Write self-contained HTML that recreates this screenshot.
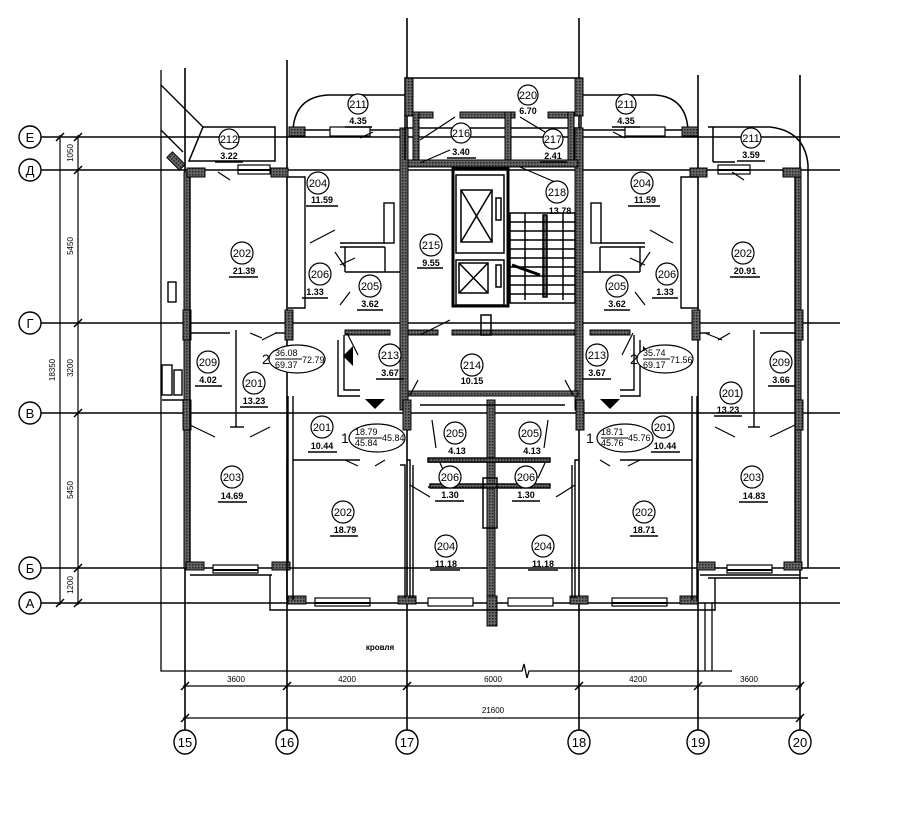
<!DOCTYPE html>
<html><head><meta charset="utf-8"><style>
html,body{margin:0;padding:0;background:#fff;}
svg{display:block;}
text{font-family:"Liberation Sans",sans-serif;fill:#000;}
.n{font-size:13px;text-anchor:middle;}
.a{font-size:9px;text-anchor:middle;font-weight:bold;}
.d{font-size:8px;text-anchor:middle;}
</style></head><body>
<svg width="900" height="820" viewBox="0 0 900 820" xmlns="http://www.w3.org/2000/svg">
<defs>
<pattern id="h" width="3" height="3" patternUnits="userSpaceOnUse"><rect width="3" height="3" fill="#666"/><rect width="1.5" height="1.5" fill="#222"/></pattern>
</defs>
<rect width="900" height="820" fill="#fff"/>
<g stroke="#000" stroke-width="1.6" fill="none">
<line x1="40" y1="137" x2="840" y2="137"/>
<line x1="40" y1="170" x2="840" y2="170"/>
<line x1="40" y1="323" x2="840" y2="323"/>
<line x1="40" y1="413" x2="840" y2="413"/>
<line x1="40" y1="568" x2="840" y2="568"/>
<line x1="40" y1="603" x2="840" y2="603"/>
<line x1="185" y1="68" x2="185" y2="731"/>
<line x1="287" y1="60" x2="287" y2="731"/>
<line x1="407" y1="18" x2="407" y2="731"/>
<line x1="579" y1="18" x2="579" y2="731"/>
<line x1="698" y1="75" x2="698" y2="731"/>
<line x1="800" y1="75" x2="800" y2="731"/>
</g>
<g stroke="#000" stroke-width="1.4" fill="#fff">
<circle cx="30" cy="137" r="11"/><circle cx="30" cy="170" r="11"/><circle cx="30" cy="323" r="11"/>
<circle cx="30" cy="413" r="11"/><circle cx="30" cy="568" r="11"/><circle cx="30" cy="603" r="11"/>
<ellipse cx="185" cy="742" rx="11" ry="12"/><ellipse cx="287" cy="742" rx="11" ry="12"/><ellipse cx="407" cy="742" rx="11" ry="12"/>
<ellipse cx="579" cy="742" rx="11" ry="12"/><ellipse cx="698" cy="742" rx="11" ry="12"/><ellipse cx="800" cy="742" rx="11" ry="12"/>
</g>
<g class="n" style="font-size:13px">
<text x="30" y="142">Е</text><text x="30" y="175">Д</text><text x="30" y="328">Г</text>
<text x="30" y="418">В</text><text x="30" y="573">Б</text><text x="30" y="608">А</text>
<text x="185" y="747">15</text><text x="287" y="747">16</text><text x="407" y="747">17</text>
<text x="579" y="747">18</text><text x="698" y="747">19</text><text x="800" y="747">20</text>
</g>
<g stroke="#000" stroke-width="1.2">
<line x1="60" y1="135" x2="60" y2="605"/>
<line x1="78" y1="135" x2="78" y2="605"/>
<g stroke-width="1.5">
<line x1="56" y1="141" x2="64" y2="133"/><line x1="56" y1="607" x2="64" y2="599"/>
<line x1="74" y1="141" x2="82" y2="133"/><line x1="74" y1="174" x2="82" y2="166"/><line x1="74" y1="327" x2="82" y2="319"/>
<line x1="74" y1="417" x2="82" y2="409"/><line x1="74" y1="572" x2="82" y2="564"/><line x1="74" y1="607" x2="82" y2="599"/>
</g>
</g>
<g class="d">
<text transform="translate(73,153) rotate(-90)">1050</text>
<text transform="translate(73,246) rotate(-90)">5450</text>
<text transform="translate(73,368) rotate(-90)">3200</text>
<text transform="translate(73,490) rotate(-90)">5450</text>
<text transform="translate(73,585) rotate(-90)">1200</text>
<text transform="translate(55,370) rotate(-90)">18350</text>
</g>
<g stroke="#000" stroke-width="1.2">
<line x1="183" y1="686" x2="802" y2="686"/>
<line x1="183" y1="718" x2="802" y2="718"/>
<g stroke-width="1.5">
<line x1="181" y1="690" x2="189" y2="682"/><line x1="283" y1="690" x2="291" y2="682"/><line x1="403" y1="690" x2="411" y2="682"/>
<line x1="575" y1="690" x2="583" y2="682"/><line x1="694" y1="690" x2="702" y2="682"/><line x1="796" y1="690" x2="804" y2="682"/>
<line x1="181" y1="722" x2="189" y2="714"/><line x1="796" y1="722" x2="804" y2="714"/>
</g>
</g>
<g class="d">
<text x="236" y="682">3600</text><text x="347" y="682">4200</text><text x="493" y="682">6000</text>
<text x="638" y="682">4200</text><text x="749" y="682">3600</text><text x="493" y="713">21600</text>
</g>
<g stroke="#000" stroke-width="1.3" fill="none">
<polyline points="161,70 161,671 522,671 524,664 527,678 529,671 732,671"/>
<line x1="705" y1="603" x2="705" y2="671"/><line x1="712" y1="603" x2="712" y2="671"/>
<line x1="161" y1="85" x2="203" y2="127"/>
<line x1="161" y1="130" x2="183" y2="152"/>
</g>
<text x="380" y="650" class="d" style="font-size:8px;font-weight:bold">кровля</text>
<g stroke="#000" stroke-width="1.5" fill="none">
<polygon points="203,127 275,127 275,161 189,161"/>
<path d="M293,130 Q295,97 328,95 L405,95"/>
<line x1="293" y1="130" x2="405" y2="130"/>
<path d="M583,95 L655,95 Q686,97 688,130"/>
<line x1="583" y1="130" x2="690" y2="130"/>
<path d="M708,127 L770,127 Q805,131 808,165 L808,568"/>
<line x1="713" y1="127" x2="713" y2="162"/><line x1="713" y1="162" x2="735" y2="162"/>
<rect x="405" y="78" width="176" height="50"/>
</g>
<g fill="url(#h)" stroke="#000" stroke-width="1">
<rect x="184" y="172" width="6" height="396"/>
<rect x="795" y="172" width="6" height="396"/>
<rect x="187" y="168" width="18" height="9"/><rect x="271" y="168" width="17" height="9"/>
<rect x="690" y="168" width="17" height="9"/><rect x="783" y="168" width="18" height="9"/>
<rect x="405" y="78" width="8" height="38"/><rect x="575" y="78" width="8" height="38"/>
<rect x="289" y="127" width="16" height="9"/><rect x="682" y="127" width="16" height="9"/>
<rect x="400" y="128" width="8" height="282"/><rect x="575" y="128" width="8" height="282"/>
<rect x="183" y="310" width="8" height="30"/><rect x="795" y="310" width="8" height="30"/>
<rect x="285" y="310" width="8" height="30"/><rect x="692" y="310" width="8" height="30"/>
<rect x="183" y="400" width="8" height="30"/><rect x="795" y="400" width="8" height="30"/>
<rect x="403" y="400" width="8" height="30"/><rect x="576" y="400" width="8" height="30"/>
<rect x="186" y="562" width="18" height="8"/><rect x="272" y="562" width="18" height="8"/>
<rect x="697" y="562" width="18" height="8"/><rect x="784" y="562" width="18" height="8"/>
<rect x="288" y="596" width="18" height="8"/><rect x="398" y="596" width="18" height="8"/>
<rect x="570" y="596" width="18" height="8"/><rect x="680" y="596" width="18" height="8"/>
<rect x="487" y="596" width="10" height="30"/>
<rect x="487" y="400" width="8" height="196"/>
<rect x="413" y="112" width="20" height="6"/><rect x="460" y="112" width="55" height="6"/><rect x="548" y="112" width="20" height="6"/>
<rect x="413" y="112" width="6" height="50"/><rect x="505" y="112" width="6" height="52"/><rect x="568" y="112" width="6" height="50"/>
<rect x="408" y="160" width="170" height="7"/>
<rect x="408" y="330" width="30" height="5"/><rect x="452" y="330" width="123" height="5"/>
<rect x="408" y="391" width="170" height="5"/>
<rect x="590" y="330" width="40" height="5"/><rect x="345" y="330" width="45" height="5"/>
<rect x="172" y="152" width="8" height="18" transform="rotate(-45 176 161)"/>
</g>
<g stroke="#000" stroke-width="1.4" fill="none">
<polyline points="288,177 305,177 305,308 288,308"/>
<polyline points="698,177 681,177 681,308 698,308"/>
<line x1="190" y1="177" x2="190" y2="562"/>
<line x1="795" y1="177" x2="795" y2="562"/>
<polyline points="338,340 338,396 360,396"/><polyline points="344,335 344,390 360,390"/>
<polyline points="640,340 640,396 620,396"/><polyline points="634,335 634,390 620,390"/>
<polyline points="288,396 288,563"/><polyline points="293,396 293,460 360,460"/>
<polyline points="697,396 697,563"/><polyline points="692,396 692,460 620,460"/>
<polyline points="407,460 410,460 410,598"/><polyline points="413,465 413,598"/>
<polyline points="579,460 575,460 575,598"/><polyline points="572,465 572,598"/>
<polyline points="400,465 405,465 405,598"/>
<line x1="287" y1="460" x2="287" y2="600"/><line x1="293" y1="460" x2="293" y2="600"/>
<line x1="697" y1="460" x2="697" y2="600"/><line x1="692" y1="460" x2="692" y2="600"/>
<line x1="420" y1="405" x2="565" y2="405"/>
<line x1="428" y1="462" x2="550" y2="462"/><line x1="428" y1="487" x2="550" y2="487"/>
<rect x="428" y="458" width="122" height="4" fill="url(#h)"/><rect x="430" y="484" width="120" height="4" fill="url(#h)"/>
<line x1="236" y1="330" x2="236" y2="427"/><line x1="230" y1="427" x2="244" y2="427"/>
<line x1="754" y1="330" x2="754" y2="427"/><line x1="748" y1="427" x2="760" y2="427"/>
<line x1="190" y1="333" x2="230" y2="333"/><line x1="275" y1="333" x2="285" y2="333"/>
<line x1="700" y1="333" x2="710" y2="333"/><line x1="760" y1="333" x2="795" y2="333"/>
<line x1="340" y1="243" x2="385" y2="243"/><line x1="340" y1="247" x2="385" y2="247"/>
<line x1="600" y1="243" x2="645" y2="243"/><line x1="600" y1="247" x2="645" y2="247"/>
<line x1="345" y1="247" x2="345" y2="272"/><line x1="385" y1="247" x2="385" y2="272"/>
<line x1="640" y1="247" x2="640" y2="272"/><line x1="600" y1="247" x2="600" y2="272"/>
<line x1="345" y1="272" x2="400" y2="272"/><line x1="583" y1="272" x2="640" y2="272"/>
<rect x="384" y="203" width="10" height="40"/><rect x="591" y="203" width="10" height="40"/>
<rect x="168" y="282" width="8" height="20"/>
<rect x="162" y="365" width="10" height="30"/><rect x="174" y="370" width="8" height="25"/>
<line x1="162" y1="400" x2="184" y2="400"/>
<line x1="190" y1="575" x2="272" y2="575"/>
<polyline points="270,575 270,610 287,610"/>
<line x1="700" y1="575" x2="800" y2="575"/>
<line x1="708" y1="578" x2="808" y2="578"/>
<polyline points="715,578 715,610 698,610"/>
<line x1="287" y1="610" x2="698" y2="610"/>
<line x1="405" y1="128" x2="405" y2="160"/>
</g>
<g stroke="#000" stroke-width="1.2" fill="#fff">
<rect x="238" y="165" width="32" height="9"/><rect x="213" y="565" width="45" height="8"/>
<rect x="727" y="565" width="45" height="8"/><rect x="718" y="165" width="32" height="9"/>
<rect x="315" y="598" width="55" height="8"/><rect x="428" y="598" width="45" height="8"/>
<rect x="508" y="598" width="45" height="8"/><rect x="612" y="598" width="55" height="8"/>
<rect x="330" y="127" width="40" height="9"/><rect x="625" y="127" width="40" height="9"/>
</g>
<g stroke="#000" stroke-width="2"><line x1="238" y1="170" x2="270" y2="170"/><line x1="718" y1="170" x2="750" y2="170"/>
<line x1="315" y1="603" x2="370" y2="603"/><line x1="612" y1="603" x2="667" y2="603"/><line x1="213" y1="570" x2="258" y2="570"/><line x1="727" y1="570" x2="772" y2="570"/></g>
<g stroke="#000" stroke-width="1.5" fill="none">
<rect x="453" y="168" width="55" height="138" stroke-width="3"/>
<rect x="456" y="175" width="48" height="78"/>
<rect x="461" y="190" width="31" height="52"/><line x1="461" y1="190" x2="492" y2="242"/><line x1="492" y1="190" x2="461" y2="242"/>
<rect x="496" y="198" width="5" height="22"/>
<rect x="456" y="260" width="48" height="45"/>
<rect x="459" y="263" width="29" height="30"/><line x1="459" y1="263" x2="488" y2="293"/><line x1="488" y1="263" x2="459" y2="293"/>
<rect x="496" y="265" width="5" height="22"/>
<rect x="510" y="213" width="65" height="90"/>
<rect x="543" y="215" width="4" height="82" fill="url(#h)"/>
<path d="M510,222H575M510,231H575M510,240H575M510,249H575M510,258H575M510,267H575M510,276H575M510,285H575M510,294H575M525,213V300M563,213V300"/>
<line x1="512" y1="265" x2="540" y2="275" stroke-width="3"/>
<rect x="481" y="315" width="10" height="20"/><rect x="483" y="478" width="14" height="50"/>
</g>
<g stroke="#000" stroke-width="1.2">
<line x1="218" y1="172" x2="230" y2="180"/><line x1="732" y1="172" x2="744" y2="180"/>
<line x1="360" y1="138" x2="373" y2="132"/><line x1="613" y1="132" x2="625" y2="138"/>
<line x1="310" y1="243" x2="335" y2="230"/><line x1="673" y1="243" x2="650" y2="230"/>
<line x1="335" y1="252" x2="345" y2="267"/><line x1="650" y1="252" x2="640" y2="267"/>
<line x1="340" y1="265" x2="355" y2="258"/><line x1="645" y1="265" x2="630" y2="258"/>
<line x1="340" y1="305" x2="350" y2="292"/><line x1="645" y1="305" x2="635" y2="292"/>
<line x1="250" y1="333" x2="262" y2="338"/><line x1="276" y1="333" x2="262" y2="340"/>
<line x1="730" y1="333" x2="718" y2="340"/><line x1="705" y1="333" x2="722" y2="340"/>
<line x1="347" y1="333" x2="358" y2="355"/><line x1="633" y1="333" x2="622" y2="355"/>
<line x1="190" y1="425" x2="215" y2="437"/><line x1="250" y1="437" x2="270" y2="427"/>
<line x1="795" y1="425" x2="770" y2="437"/><line x1="735" y1="437" x2="715" y2="427"/>
<line x1="345" y1="460" x2="358" y2="466"/><line x1="375" y1="466" x2="385" y2="460"/>
<line x1="640" y1="460" x2="628" y2="466"/><line x1="610" y1="466" x2="600" y2="460"/>
<line x1="410" y1="485" x2="430" y2="497"/><line x1="575" y1="485" x2="556" y2="497"/>
<line x1="420" y1="335" x2="450" y2="320"/><line x1="420" y1="140" x2="455" y2="117"/>
<line x1="420" y1="163" x2="450" y2="150"/><line x1="520" y1="117" x2="545" y2="132"/>
<line x1="520" y1="167" x2="555" y2="182"/>
<line x1="418" y1="380" x2="410" y2="395"/><line x1="565" y1="380" x2="573" y2="395"/>
<line x1="432" y1="420" x2="436" y2="448"/><line x1="548" y1="420" x2="544" y2="448"/>
<line x1="440" y1="463" x2="447" y2="478"/><line x1="545" y1="463" x2="538" y2="478"/>
</g>
<g fill="#000">
<polygon points="343,356 353,346 353,366"/><polygon points="365,399 385,399 375,409"/>
<polygon points="643,346 653,356 643,366"/><polygon points="600,399 620,399 610,409"/>
</g>
<g stroke="#000" stroke-width="1.2" fill="#fff">
<circle cx="229" cy="139" r="10"/><circle cx="358" cy="104" r="10"/><circle cx="528" cy="95" r="10"/>
<circle cx="461" cy="133" r="10"/><circle cx="553" cy="139" r="10"/><circle cx="626" cy="104" r="10"/>
<circle cx="751" cy="138" r="10"/><circle cx="318" cy="183" r="11"/><circle cx="642" cy="183" r="11"/>
<circle cx="557" cy="192" r="11"/><circle cx="242" cy="253" r="11"/><circle cx="743" cy="253" r="11"/>
<circle cx="431" cy="245" r="11"/><circle cx="320" cy="274" r="11"/><circle cx="667" cy="274" r="11"/>
<circle cx="370" cy="286" r="11"/><circle cx="617" cy="286" r="11"/>
<circle cx="208" cy="362" r="11"/><circle cx="781" cy="362" r="11"/>
<circle cx="390" cy="355" r="11"/><circle cx="597" cy="355" r="11"/><circle cx="472" cy="365" r="11"/>
<circle cx="254" cy="383" r="11"/><circle cx="731" cy="393" r="11"/>
<circle cx="322" cy="427" r="11"/><circle cx="663" cy="427" r="11"/>
<circle cx="455" cy="433" r="11"/><circle cx="530" cy="433" r="11"/>
<circle cx="450" cy="477" r="11"/><circle cx="526" cy="477" r="11"/>
<circle cx="232" cy="477" r="11"/><circle cx="752" cy="477" r="11"/>
<circle cx="343" cy="512" r="11"/><circle cx="644" cy="512" r="11"/>
<circle cx="446" cy="546" r="11"/><circle cx="543" cy="546" r="11"/>
<ellipse cx="297" cy="359" rx="28" ry="14"/><ellipse cx="665" cy="359" rx="28" ry="14"/>
<ellipse cx="377" cy="438" rx="28" ry="14"/><ellipse cx="625" cy="438" rx="28" ry="14"/>
</g>
<g class="n" style="font-size:11px">
<text x="229" y="143">212</text><text x="358" y="108">211</text><text x="528" y="99">220</text>
<text x="461" y="137">216</text><text x="553" y="143">217</text><text x="626" y="108">211</text>
<text x="751" y="142">211</text><text x="318" y="187">204</text><text x="642" y="187">204</text>
<text x="557" y="196">218</text><text x="242" y="257">202</text><text x="743" y="257">202</text>
<text x="431" y="249">215</text><text x="320" y="278">206</text><text x="667" y="278">206</text>
<text x="370" y="290">205</text><text x="617" y="290">205</text>
<text x="208" y="366">209</text><text x="781" y="366">209</text>
<text x="390" y="359">213</text><text x="597" y="359">213</text><text x="472" y="369">214</text>
<text x="254" y="387">201</text><text x="731" y="397">201</text>
<text x="322" y="431">201</text><text x="663" y="431">201</text>
<text x="455" y="437">205</text><text x="530" y="437">205</text>
<text x="450" y="481">206</text><text x="526" y="481">206</text>
<text x="232" y="481">203</text><text x="752" y="481">203</text>
<text x="343" y="516">202</text><text x="644" y="516">202</text>
<text x="446" y="550">204</text><text x="543" y="550">204</text>
</g>
<g class="a">
<text x="229" y="159">3.22</text><text x="358" y="124">4.35</text><text x="528" y="114">6.70</text>
<text x="461" y="155">3.40</text><text x="553" y="159">2.41</text><text x="626" y="124">4.35</text>
<text x="751" y="158">3.59</text><text x="322" y="203">11.59</text><text x="645" y="203">11.59</text>
<text x="560" y="214">13.78</text><text x="244" y="274">21.39</text><text x="745" y="274">20.91</text>
<text x="431" y="266">9.55</text><text x="315" y="295">1.33</text><text x="665" y="295">1.33</text>
<text x="370" y="307">3.62</text><text x="617" y="307">3.62</text>
<text x="208" y="383">4.02</text><text x="781" y="383">3.66</text>
<text x="390" y="376">3.67</text><text x="597" y="376">3.67</text><text x="472" y="384">10.15</text>
<text x="254" y="404">13.23</text><text x="728" y="413">13.23</text>
<text x="322" y="449">10.44</text><text x="665" y="449">10.44</text>
<text x="457" y="454">4.13</text><text x="532" y="454">4.13</text>
<text x="450" y="498">1.30</text><text x="526" y="498">1.30</text>
<text x="232" y="499">14.69</text><text x="754" y="499">14.83</text>
<text x="345" y="533">18.79</text><text x="644" y="533">18.71</text>
<text x="446" y="567">11.18</text><text x="543" y="567">11.18</text>
</g>
<g stroke="#000" stroke-width="1.4">
<line x1="215" y1="162" x2="243" y2="162"/><line x1="345" y1="127" x2="372" y2="127"/>
<line x1="447" y1="158" x2="476" y2="158"/><line x1="540" y1="162" x2="567" y2="162"/>
<line x1="612" y1="127" x2="640" y2="127"/><line x1="737" y1="161" x2="765" y2="161"/>
<line x1="306" y1="206" x2="338" y2="206"/><line x1="628" y1="206" x2="660" y2="206"/>
<line x1="229" y1="277" x2="258" y2="277"/><line x1="730" y1="277" x2="760" y2="277"/>
<line x1="417" y1="268" x2="443" y2="268"/><line x1="302" y1="298" x2="328" y2="298"/><line x1="652" y1="298" x2="678" y2="298"/>
<line x1="357" y1="310" x2="383" y2="310"/><line x1="604" y1="310" x2="630" y2="310"/>
<line x1="195" y1="386" x2="222" y2="386"/><line x1="768" y1="386" x2="795" y2="386"/>
<line x1="376" y1="379" x2="404" y2="379"/><line x1="583" y1="379" x2="611" y2="379"/>
<line x1="240" y1="407" x2="268" y2="407"/><line x1="714" y1="416" x2="742" y2="416"/>
<line x1="308" y1="452" x2="337" y2="452"/><line x1="651" y1="452" x2="680" y2="452"/>
<line x1="435" y1="501" x2="464" y2="501"/><line x1="512" y1="501" x2="540" y2="501"/>
<line x1="218" y1="502" x2="247" y2="502"/><line x1="739" y1="502" x2="768" y2="502"/>
<line x1="330" y1="536" x2="358" y2="536"/><line x1="630" y1="536" x2="658" y2="536"/>
<line x1="430" y1="570" x2="460" y2="570"/><line x1="528" y1="570" x2="558" y2="570"/>
</g>
<g style="font-size:9px">
<text x="262" y="364" style="font-size:14px">2</text>
<text x="275" y="356">36.08</text><text x="275" y="368">69.37</text><text x="302" y="363">72.79</text>
<text x="630" y="364" style="font-size:14px">2</text>
<text x="643" y="356">35.74</text><text x="643" y="368">69.17</text><text x="670" y="363">71.56</text>
<text x="341" y="443" style="font-size:14px">1</text>
<text x="355" y="435">18.79</text><text x="355" y="446">45.84</text><text x="382" y="441">45.84</text>
<text x="586" y="443" style="font-size:14px">1</text>
<text x="601" y="435">18.71</text><text x="601" y="446">45.76</text><text x="628" y="441">45.76</text>
</g>
<g stroke="#000" stroke-width="1">
<line x1="275" y1="359" x2="302" y2="359"/><line x1="643" y1="359" x2="670" y2="359"/>
<line x1="355" y1="438" x2="382" y2="438"/><line x1="601" y1="438" x2="628" y2="438"/>
</g>
</svg>
</body></html>
